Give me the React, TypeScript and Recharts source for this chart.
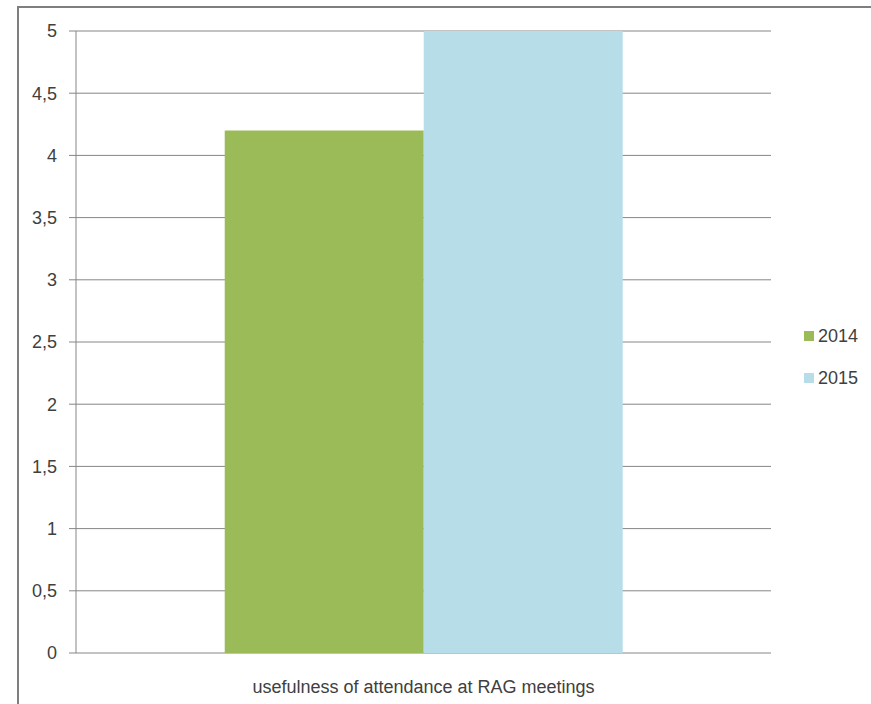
import React from "react";
import { BarChart, Bar, XAxis, YAxis, CartesianGrid, Legend } from "recharts";

const categories = ["usefulness of attendance at RAG meetings"];
const values2014 = [4.2];
const values2015 = [5];
const yTicks = [0, 0.5, 1, 1.5, 2, 2.5, 3, 3.5, 4, 4.5, 5];
const seriesNames = ["2014", "2015"];
const seriesColors = ["#9BBB59", "#B7DEE8"];

const data = categories.map((c, i) => ({
  name: c,
  s2014: values2014[i],
  s2015: values2015[i],
}));

const FONT = "'Liberation Sans', Arial, sans-serif";
const TEXT = "#404040";
const LINE = "#868686";

const CatTick = (props: any) => {
  const { x, y, payload } = props;
  return (
    <text x={x} y={y + 32} textAnchor="middle" fill={TEXT} fontSize={18} fontFamily={FONT}>
      {payload.value}
    </text>
  );
};

const LegendContent = () => (
  <div style={{ fontFamily: FONT, fontSize: 18, color: TEXT }}>
    {seriesNames.map((n, i) => (
      <div key={n} style={{ display: "flex", alignItems: "center", height: 42 }}>
        <span style={{ display: "inline-block", width: 10, height: 10, background: seriesColors[i], marginRight: 4 }} />
        <span>{n}</span>
      </div>
    ))}
  </div>
);

export default function App() {
  return (
    <div style={{ position: "absolute", left: 0, top: 0, width: 871, height: 704, overflow: "hidden", background: "#fff" }}>
      <div style={{ position: "absolute", left: 17, top: 6, width: 1000, height: 1000, border: "2px solid #7f7f7f", boxSizing: "border-box" }} />
      <div style={{ position: "absolute", left: 0, top: 0 }}>
        <BarChart width={871} height={704} data={data} margin={{ top: 31, right: 30, bottom: 0, left: 0 }} barCategoryGap="21.4%" barGap={0}>
          <CartesianGrid vertical={false} stroke={LINE} strokeWidth={1} />
          <XAxis xAxisId="num" type="number" domain={[0, 1]} ticks={[0, 1]} tick={false} tickSize={7} height={0} stroke={LINE} axisLine={{ stroke: LINE }} tickLine={{ stroke: LINE }} />
          <XAxis xAxisId="cat" dataKey="name" type="category" height={51} axisLine={false} tickLine={false} tick={<CatTick />} interval={0} />
          <YAxis
            width={76}
            domain={[0, 5]}
            ticks={yTicks}
            tickSize={7}
            tickMargin={12}
            interval={0}
            stroke={LINE}
            tick={{ fill: TEXT, fontSize: 18, fontFamily: FONT }}
            tickFormatter={(v: number) => String(v).replace(".", ",")}
          />
          <Legend
            layout="vertical"
            align="right"
            verticalAlign="top"
            content={<LegendContent />}
            wrapperStyle={{ left: 804, top: 315, width: 70 }}
          />
          <Bar xAxisId="cat" dataKey="s2014" name={seriesNames[0]} fill={seriesColors[0]} isAnimationActive={false} />
          <Bar xAxisId="cat" dataKey="s2015" name={seriesNames[1]} fill={seriesColors[1]} isAnimationActive={false} />
        </BarChart>
      </div>
    </div>
  );
}
